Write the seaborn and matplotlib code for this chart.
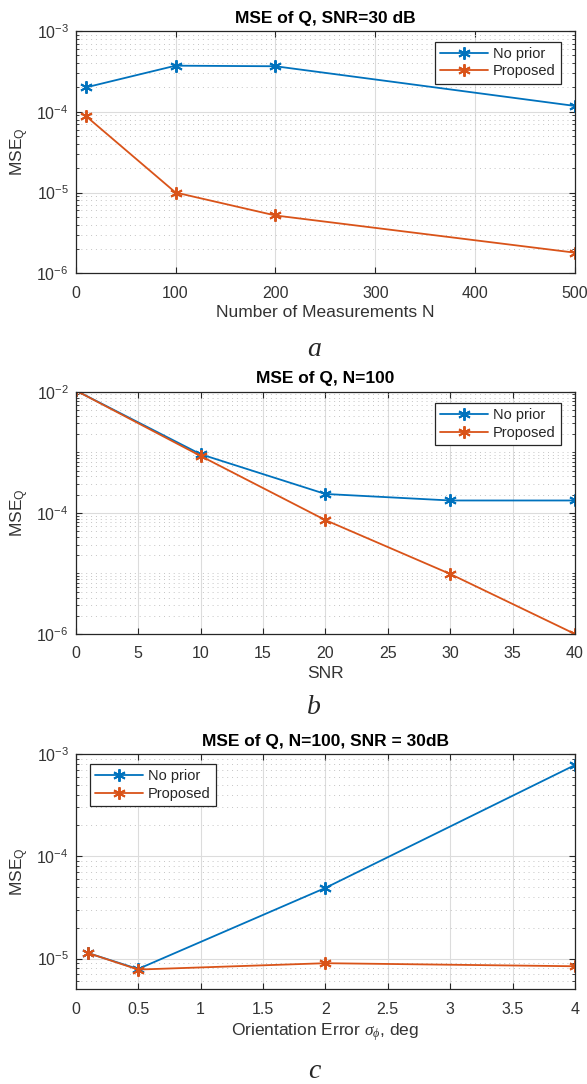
import numpy as np
import matplotlib
matplotlib.use("Agg")
import matplotlib.pyplot as plt
import matplotlib.ticker as mticker
import seaborn as sns

# ---------------- data ----------------
n_meas = [10, 100, 200, 500]
a_noprior = [2.0e-4, 3.72e-4, 3.66e-4, 1.18e-4]
a_proposed = [8.9e-5, 1.0e-5, 5.2e-6, 1.8e-6]

snr = [0, 10, 20, 30, 40]
b_noprior = [1.05e-2, 9.3e-4, 2.05e-4, 1.6e-4, 1.6e-4]
b_proposed = [1.05e-2, 8.7e-4, 7.6e-5, 9.8e-6, 1.0e-6]

orient_err = [0.1, 0.5, 2, 4]
c_noprior = [1.13e-5, 7.9e-6, 4.9e-5, 7.8e-4]
c_proposed = [1.13e-5, 7.8e-6, 9.0e-6, 8.4e-6]

titles = ["MSE of Q, SNR=30 dB", "MSE of Q, N=100", "MSE of Q, N=100, SNR = 30dB"]
xlabels = ["Number of Measurements N", "SNR", "Orientation Error $\\mathit{\\sigma_{\\phi}}$, deg"]
captions = ["a", "b", "c"]
series_names = ["No prior", "Proposed"]

BLUE = "#0072BD"
ORANGE = "#D95319"

sns.set_style("ticks")
plt.rcParams["font.family"] = ["Liberation Sans", "DejaVu Sans"]
plt.rcParams["mathtext.fontset"] = "custom"
plt.rcParams["mathtext.rm"] = "Liberation Sans"
plt.rcParams["mathtext.it"] = "Liberation Serif:italic"
plt.rcParams["mathtext.bf"] = "Liberation Sans:bold"
plt.rcParams["mathtext.default"] = "regular"

fig = plt.figure(figsize=(5.87, 10.84), dpi=100)
H = 1084.0
left = 75.7 / 587
width = (575 - 75.7) / 587
boxes = [(31, 273.3), (391.7, 634), (754, 989.3)]
axes = [fig.add_axes([left, 1 - b / H, width, (b - t) / H]) for t, b in boxes]

xs = [n_meas, snr, orient_err]
ys = [(a_noprior, a_proposed), (b_noprior, b_proposed), (c_noprior, c_proposed)]
xlims = [(0, 500), (0, 40), (0, 4)]
xticks = [np.arange(0, 501, 100), np.arange(0, 41, 5), np.arange(0, 4.01, 0.5)]
ylims = [(1e-6, 1e-3), (1e-6, 1e-2), (5e-6, 1e-3)]
yticks = [[1e-6, 1e-5, 1e-4, 1e-3], [1e-6, 1e-4, 1e-2], [1e-5, 1e-4, 1e-3]]
legend_cfg = [("upper right", (0.972, 0.956)), ("upper right", (0.972, 0.952)), ("upper left", (0.028, 0.956))]
caption_y = [350, 708, 1071]

marker = (6, 2, 0)
for i, ax in enumerate(axes):
    for vals, col, name in zip(ys[i], [BLUE, ORANGE], series_names):
        sns.lineplot(x=xs[i], y=vals, ax=ax, color=col, label=name, marker=marker,
                     markersize=9, markeredgecolor=col, markeredgewidth=1.4,
                     linewidth=1.3, sort=False)
    ax.set_yscale("log")
    ax.set_xlim(*xlims[i])
    ax.set_ylim(*ylims[i])
    ax.set_xticks(xticks[i])
    ax.xaxis.set_major_formatter(mticker.FuncFormatter(lambda v, p: "%g" % v))
    ax.set_yticks(yticks[i])
    ax.yaxis.set_major_formatter(mticker.LogFormatterSciNotation())
    ax.yaxis.set_minor_locator(mticker.LogLocator(base=10, subs=np.arange(1, 10), numticks=30))
    ax.yaxis.set_minor_formatter(mticker.NullFormatter())
    ax.grid(True, which="major", axis="both", color="#dcdcdc", linewidth=0.8, linestyle="-")
    ax.grid(True, which="minor", axis="y", color="#c4c4c4", linewidth=0.7, linestyle=(0, (1, 4)))
    ax.set_axisbelow(True)
    for s in ax.spines.values():
        s.set_visible(True)
        s.set_color("#262626")
        s.set_linewidth(0.9)
    ax.tick_params(which="both", direction="in", top=True, right=True, colors="#262626",
                   labelcolor="#333333", labelsize=11.5, pad=5)
    ax.tick_params(axis="x", which="major", pad=9)
    ax.tick_params(which="major", length=4, width=0.8)
    ax.tick_params(which="minor", length=2.5, width=0.6)
    ax.set_title(titles[i], fontsize=12.5, fontweight="bold", color="black", pad=6)
    ax.set_xlabel(xlabels[i], fontsize=12.5, color="#333333", labelpad=3)
    ax.set_ylabel("MSE$_Q$", fontsize=12.5, color="#333333", labelpad=4)
    loc, anchor = legend_cfg[i]
    leg = ax.legend(loc=loc, bbox_to_anchor=anchor, borderaxespad=0, fontsize=10.5,
                    frameon=True, fancybox=False, framealpha=1, edgecolor="#262626",
                    handlelength=3.3, handletextpad=0.35, borderpad=0.35, labelspacing=0.25)
    leg.get_frame().set_linewidth(0.9)
    fig.text(0.535, 1 - caption_y[i] / H, captions[i], family="Liberation Serif",
             style="italic", fontsize=20, ha="center", va="center")

fig.savefig("out.png", dpi=100)
